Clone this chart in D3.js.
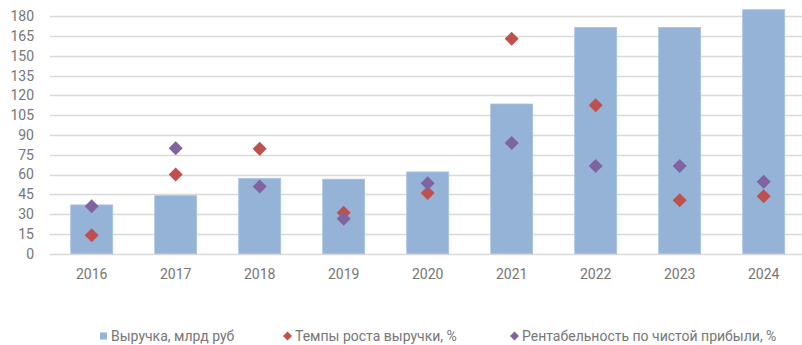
<!DOCTYPE html>
<html>
<head>
<meta charset="utf-8">
<script src="https://cdn.jsdelivr.net/npm/d3@7"></script>
<style>
  html, body { margin: 0; padding: 0; background: #fff; }
  svg { display: block; font-family: "Roboto", "Liberation Sans", sans-serif; }
</style>
</head>
<body>
<svg id="chart" width="802" height="345"></svg>
<script>
// Годы
const years = ["2016", "2017", "2018", "2019", "2020", "2021", "2022", "2023", "2024"];
// Выручка, млрд руб
const revenue = [37, 44, 57, 56.5, 62, 113.5, 171.5, 171.5, 185];
// Темпы роста выручки, %
const growth = [14, 60, 79.5, 31, 46, 163, 112.5, 40.5, 43.5];
// Рентабельность по чистой прибыли, %
const margin = [36, 80, 51, 26.5, 53.5, 84, 66.5, 66.5, 54.5];
// Деления оси Y
const yTicks = [0, 15, 30, 45, 60, 75, 90, 105, 120, 135, 150, 165, 180];

const legendItems = [
  { label: "Выручка, млрд руб", shape: "square", color: "#95B3D7" },
  { label: "Темпы роста выручки, %", shape: "diamond", color: "#C0504D" },
  { label: "Рентабельность по чистой прибыли, %", shape: "diamond", color: "#8064A2" }
];

const svg = d3.select("#chart");
const W = 802, H = 345;
const plot = { left: 49.7, right: 805.7, top: 16.3, bottom: 253.7 };

const x = d3.scaleBand().domain(years).range([plot.left, plot.right]).paddingInner(0.5).paddingOuter(0.25);
const y = d3.scaleLinear().domain([0, 180]).range([plot.bottom, plot.top]);

const textColor = "#767676";

// Сетка
svg.append("g")
  .selectAll("line")
  .data(yTicks)
  .join("line")
  .attr("x1", plot.left)
  .attr("x2", W)
  .attr("y1", d => Math.round(y(d)) + 0.5)
  .attr("y2", d => Math.round(y(d)) + 0.5)
  .attr("stroke", "#D9D9D9")
  .attr("stroke-width", 1.5);

// Подписи оси Y
svg.append("g")
  .selectAll("text")
  .data(yTicks)
  .join("text")
  .attr("x", 34)
  .attr("y", d => y(d))
  .attr("dy", "0.35em")
  .attr("text-anchor", "end")
  .attr("fill", textColor)
  .attr("font-size", 14)
  .text(d => d);

// Столбцы выручки
svg.append("g")
  .selectAll("rect")
  .data(years.map((yr, i) => ({ yr, v: revenue[i] })))
  .join("rect")
  .attr("x", d => x(d.yr))
  .attr("width", x.bandwidth())
  .attr("y", d => y(d.v))
  .attr("height", d => y(0) - y(d.v))
  .attr("fill", "#95B3D7")
  .attr("stroke", "#A9C2E0")
  .attr("stroke-width", 0.8);

// Подписи оси X
svg.append("g")
  .selectAll("text")
  .data(years)
  .join("text")
  .attr("x", d => x(d) + x.bandwidth() / 2)
  .attr("y", 274)
  .attr("dy", "0.35em")
  .attr("text-anchor", "middle")
  .attr("fill", textColor)
  .attr("font-size", 14)
  .text(d => d);

function diamondPath(r) {
  return `M0,${-r}L${r},0L0,${r}L${-r},0Z`;
}

function drawPoints(values, color) {
  svg.append("g")
    .selectAll("path")
    .data(years.map((yr, i) => ({ yr, v: values[i] })))
    .join("path")
    .attr("d", diamondPath(7))
    .attr("transform", d => `translate(${x(d.yr) + x.bandwidth() / 2},${y(d.v)})`)
    .attr("fill", color);
}
drawPoints(growth, "#C0504D");
drawPoints(margin, "#8064A2");

// Легенда
const legendX = [100, 284, 511];
const legend = svg.append("g");
legendItems.forEach((item, i) => {
  const g = legend.append("g").attr("transform", `translate(${legendX[i]},336)`);
  if (item.shape === "square") {
    g.append("rect").attr("x", 0).attr("y", -3.5).attr("width", 7).attr("height", 7).attr("fill", item.color);
  } else {
    g.append("path").attr("d", diamondPath(4.5)).attr("transform", "translate(3.5,0)").attr("fill", item.color);
  }
  g.append("text")
    .attr("x", 11)
    .attr("y", 0)
    .attr("dy", "0.35em")
    .attr("fill", textColor)
    .attr("font-size", 14)
    .text(item.label);
});
</script>
</body>
</html>
